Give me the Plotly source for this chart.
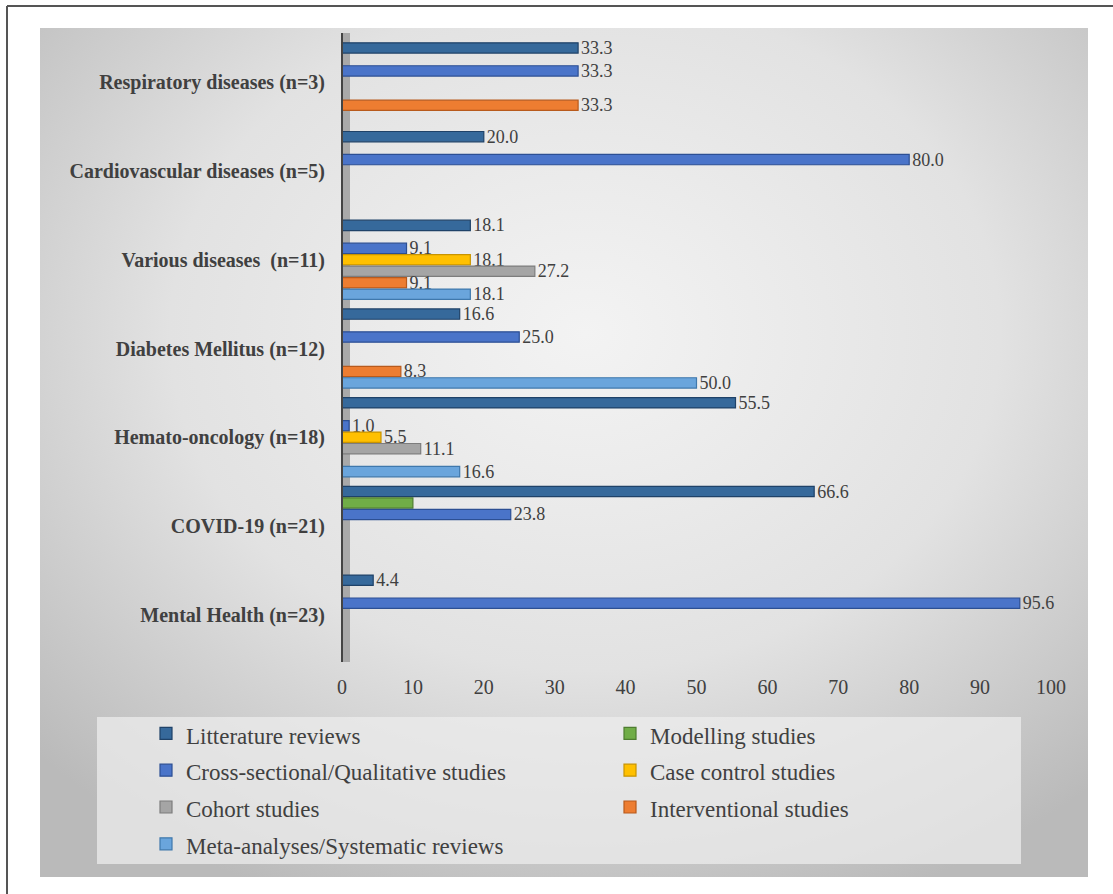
import base64
import plotly.graph_objects as go

# ---------------- data ----------------
categories = [
    "Respiratory diseases (n=3)",
    "Cardiovascular diseases (n=5)",
    "Various diseases  (n=11)",
    "Diabetes Mellitus (n=12)",
    "Hemato-oncology (n=18)",
    "COVID-19 (n=21)",
    "Mental Health (n=23)",
]

litterature_reviews = [33.3, 20.0, 18.1, 16.6, 55.5, 66.6, 4.4]
modelling_studies = [None, None, None, None, None, 10.0, None]
cross_sectional = [33.3, 80.0, 9.1, 25.0, 1.0, 23.8, 95.6]
case_control = [None, None, 18.1, None, 5.5, None, None]
cohort_studies = [None, None, 27.2, None, 11.1, None, None]
interventional = [33.3, None, 9.1, 8.3, None, None, None]
meta_analyses = [None, None, 18.1, 50.0, 16.6, None, None]

series_names = [
    "Litterature reviews",
    "Modelling studies",
    "Cross-sectional/Qualitative studies",
    "Case control studies",
    "Cohort studies",
    "Interventional studies",
    "Meta-analyses/Systematic reviews",
]
series_values = [litterature_reviews, modelling_studies, cross_sectional,
                 case_control, cohort_studies, interventional, meta_analyses]
series_colors = ["#36699b", "#70ad47", "#4a74c9", "#ffc000",
                 "#a5a5a5", "#ed7d31", "#6aa5dc"]
series_lines = ["#1f4268", "#4e7d30", "#2c4f94", "#c99400",
                "#7d7d7d", "#b85a1c", "#3f78ac"]
show_labels = [True, False, True, True, True, True, True]

x_ticks = list(range(0, 101, 10))

FONT = "Liberation Serif, Times New Roman, serif"
TXT = "#404040"

fig = go.Figure()
for name, vals, col, lc, lab in zip(series_names, series_values, series_colors,
                                     series_lines, show_labels):
    fig.add_trace(go.Bar(
        y=categories, x=vals, orientation="h",
        name='<span style="font-size:23px">' + name + "</span>",
        marker=dict(color=col, line=dict(color=lc, width=1.2)),
        texttemplate="%{x:.1f}" if lab else None,
        textposition="outside" if lab else "none",
        textfont=dict(family=FONT, size=18, color=TXT),
        constraintext="none", cliponaxis=False,
    ))

# background gradient panel (decorative)
svg = (
    '<svg xmlns="http://www.w3.org/2000/svg" width="1000" height="1000" '
    'viewBox="0 0 1000 1000" preserveAspectRatio="none">'
    '<defs><radialGradient id="g" cx="0.52" cy="0.36" r="0.72">'
    '<stop offset="0" stop-color="#f3f3f3"/>'
    '<stop offset="0.55" stop-color="#e2e2e2"/>'
    '<stop offset="1" stop-color="#bababa"/>'
    '</radialGradient></defs>'
    '<rect width="1000" height="1000" fill="url(#g)"/></svg>'
)
svg_uri = "data:image/svg+xml;base64," + base64.b64encode(svg.encode()).decode()

W, H = 1113, 894
L, R, T, B = 342, 62, 38, 235
pw, ph = W - L - R, H - T - B


def px(xpix):
    return (xpix - L) / pw


def py(ypix):
    return (H - B - ypix) / ph


fig.update_layout(
    width=W, height=H,
    margin=dict(l=L, r=R, t=T, b=B),
    paper_bgcolor="white",
    plot_bgcolor="rgba(0,0,0,0)",
    barmode="group", bargap=0.095, bargroupgap=0.1,
    font=dict(family=FONT, color=TXT),
    images=[dict(
        source=svg_uri, xref="paper", yref="paper",
        x=px(40), y=py(28), sizex=px(1088) - px(40), sizey=py(28) - py(877),
        xanchor="left", yanchor="top", sizing="stretch", layer="below",
    )],
    shapes=[
        # outer frame (top and left edges visible)
        dict(type="line", xref="paper", yref="paper", x0=px(7), x1=px(1125),
             y0=py(6), y1=py(6), line=dict(color="#555555", width=2)),
        dict(type="line", xref="paper", yref="paper", x0=px(7), x1=px(7),
             y0=py(6), y1=py(900), line=dict(color="#555555", width=2)),
        # legend box
        dict(type="rect", xref="paper", yref="paper", x0=px(97), x1=px(1021),
             y0=py(864), y1=py(717), fillcolor="rgba(236,236,236,0.75)",
             line=dict(width=0), layer="below"),
        # 3D wall next to the category axis
        dict(type="rect", xref="paper", yref="paper", x0=0, x1=px(350),
             y0=py(662), y1=py(33), fillcolor="#a9a9a9", line=dict(width=0),
             layer="below"),
        dict(type="line", xref="paper", yref="paper", x0=0, x1=0,
             y0=py(662), y1=py(33), line=dict(color="#444444", width=2)),
    ],
    xaxis=dict(
        range=[0, 100], tickvals=x_ticks, showgrid=False, zeroline=False,
        showline=False, ticks="", ticklabelstandoff=14,
        tickfont=dict(family=FONT, size=20, color=TXT),
    ),
    yaxis=dict(
        autorange="reversed", showgrid=False, zeroline=False, showline=False,
        ticks="", ticklabelstandoff=16,
        tickfont=dict(family=FONT, size=20, color=TXT, weight="bold"),
    ),
    legend=dict(
        orientation="h", x=px(98), y=py(710), xanchor="left", yanchor="top",
        xref="paper", yref="paper",
        entrywidth=371, entrywidthmode="pixels", indentation=48,
        bgcolor="rgba(0,0,0,0)", borderwidth=0,
        font=dict(family=FONT, size=26, color=TXT),
        traceorder="normal",
    ),
)

fig.write_html("out.html")
